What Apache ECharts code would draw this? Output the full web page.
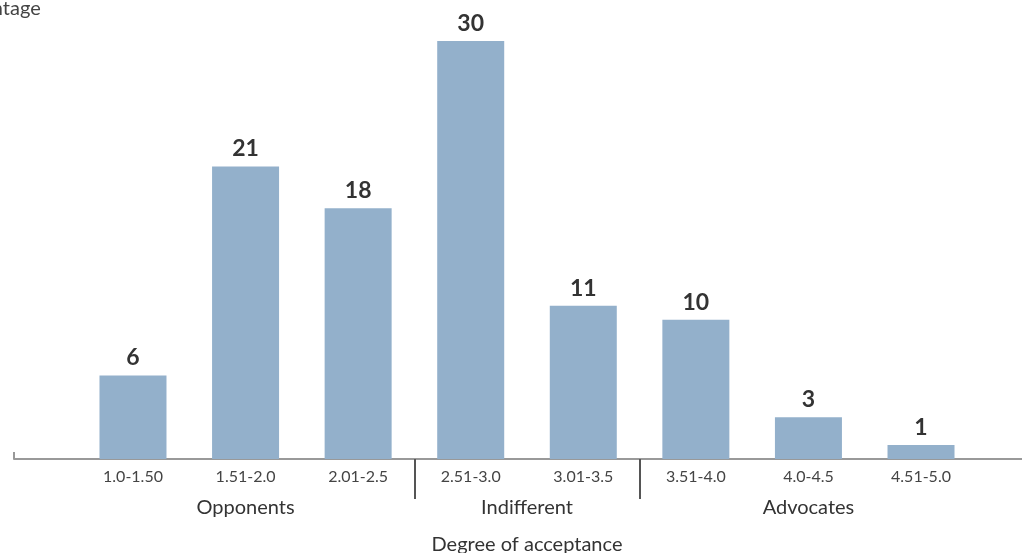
<!DOCTYPE html>
<html>
<head>
<meta charset="utf-8">
<script src="https://cdn.jsdelivr.net/npm/echarts@6/dist/echarts.min.js"></script>
<style>
html,body{margin:0;padding:0;background:#fff;}
#c{width:1022px;height:553px;}
</style>
</head>
<body>
<div id="c"></div>
<script>
const categories = ['1.0-1.50','1.51-2.0','2.01-2.5','2.51-3.0','3.01-3.5','3.51-4.0','4.0-4.5','4.51-5.0'];
const values = [6, 21, 18, 30, 11, 10, 3, 1];
const groupNames = ['Opponents', 'Indifferent', 'Advocates'];
const groupFrom = [0, 3, 5];
const groupTo = [2, 4, 7];
const xTitle = 'Degree of acceptance';
const yTitle = 'Percentage';

const groupCenters = groupNames.map((_, i) => (groupFrom[i] + groupTo[i]) / 2);
const separators = groupTo.slice(0, -1).map(t => t + 0.5);
const FONT = 'Lato';

const chart = echarts.init(document.getElementById('c'));
chart.setOption({
  animation: false,
  textStyle: { fontFamily: FONT },
  grid: [
    { left: 76.7, right: 44.7, top: 41, bottom: 94, containLabel: false, outerBoundsMode: 'none' },
    { left: 14, right: 0, top: 41, bottom: 94, containLabel: false, outerBoundsMode: 'none' }
  ],
  graphic: [{
    type: 'text', left: -57, top: -1,
    style: { text: yTitle, fontFamily: FONT, fontSize: 20, fill: '#444' }
  }],
  xAxis: [
    {
      type: 'category', gridIndex: 0, data: categories,
      axisLine: { show: false }, axisTick: { show: false },
      axisLabel: { color: '#444', fontSize: 16, margin: 10, fontFamily: FONT }
    },
    {
      type: 'value', gridIndex: 0, min: -0.5, max: 7.5, position: 'bottom',
      splitLine: { show: false }, axisLine: { show: false },
      axisTick: { show: true, customValues: separators, length: 40, lineStyle: { color: '#555', width: 2 } },
      axisLabel: {
        customValues: groupCenters, margin: 39, color: '#333', fontSize: 20, fontFamily: FONT,
        formatter: v => { const i = groupCenters.indexOf(v); return i >= 0 ? groupNames[i] : ''; }
      },
      name: xTitle, nameLocation: 'middle', nameGap: 76,
      nameTextStyle: { color: '#333', fontSize: 20, fontFamily: FONT }
    },
    {
      type: 'value', gridIndex: 1, min: 0, max: 1, interval: 1,
      splitLine: { show: false },
      axisLine: { show: true, lineStyle: { color: '#999', width: 2 } },
      axisTick: { show: true, inside: true, length: 7, customValues: [0], lineStyle: { color: '#999', width: 2 } },
      axisLabel: { show: false }
    }
  ],
  yAxis: [
    { type: 'value', gridIndex: 0, min: 0, max: 30, show: false },
    { type: 'value', gridIndex: 1, min: 0, max: 1, show: false }
  ],
  series: [{
    type: 'bar', xAxisIndex: 0, yAxisIndex: 0, data: values, barWidth: 67,
    itemStyle: { color: '#93b0cb' },
    label: { show: true, position: 'top', distance: 6, color: '#333', fontSize: 23, fontWeight: 'bold', fontFamily: FONT }
  }]
});
</script>
</body>
</html>
